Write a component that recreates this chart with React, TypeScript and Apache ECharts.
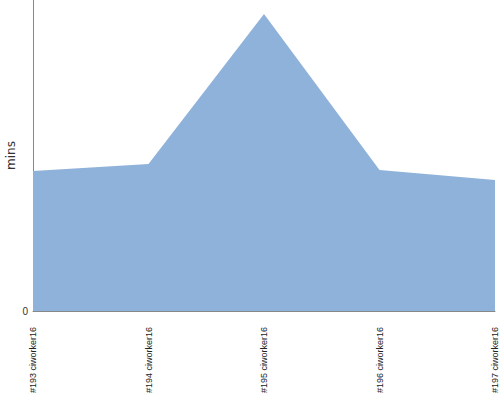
import React, { useEffect, useRef } from "react";
import * as echarts from "echarts";

const categories = ["#193 ciworker16", "#194 ciworker16", "#195 ciworker16", "#196 ciworker16", "#197 ciworker16"];
const minsValues = [4.5, 4.73, 9.55, 4.53, 4.21];
const yMax = 10;

export default function App() {
  const ref = useRef<HTMLDivElement>(null);
  useEffect(() => {
    const chart = echarts.init(ref.current!, null, { renderer: "svg" });
    chart.setOption({
      animation: false,
      grid: { left: 33, right: 5, top: 0, bottom: 89, containLabel: false, outerBoundsMode: "none" },
      xAxis: {
        type: "category",
        data: categories,
        boundaryGap: false,
        axisLine: { lineStyle: { color: "#888888" } },
        axisTick: { show: false },
        axisLabel: {
          rotate: 90,
          interval: 0,
          margin: 16,
          fontSize: 9,
          fontFamily: "Liberation Sans",
          color: "#222222",
        },
        splitLine: { show: false },
      },
      yAxis: {
        type: "value",
        min: 0,
        max: yMax,
        name: "mins",
        nameLocation: "middle",
        nameGap: 16,
        nameMoveOverlap: false,
        nameTextStyle: { fontSize: 12, color: "#333333", fontFamily: "DejaVu Sans" },
        axisLine: { show: true, lineStyle: { color: "#888888" } },
        axisTick: { show: false },
        axisLabel: {
          fontSize: 10,
          color: "#333333",
          margin: 5,
          formatter: (v: number) => (v === 0 ? "0" : ""),
        },
        splitLine: { show: false },
      },
      series: [
        {
          type: "line",
          data: minsValues,
          symbol: "none",
          lineStyle: { width: 0 },
          areaStyle: { color: "#8fb2da", opacity: 1 },
        },
      ],
    });
    return () => chart.dispose();
  }, []);
  return (
    <div
      ref={ref}
      style={{ position: "absolute", left: 0, top: 0, width: 500, height: 400 }}
    />
  );
}
